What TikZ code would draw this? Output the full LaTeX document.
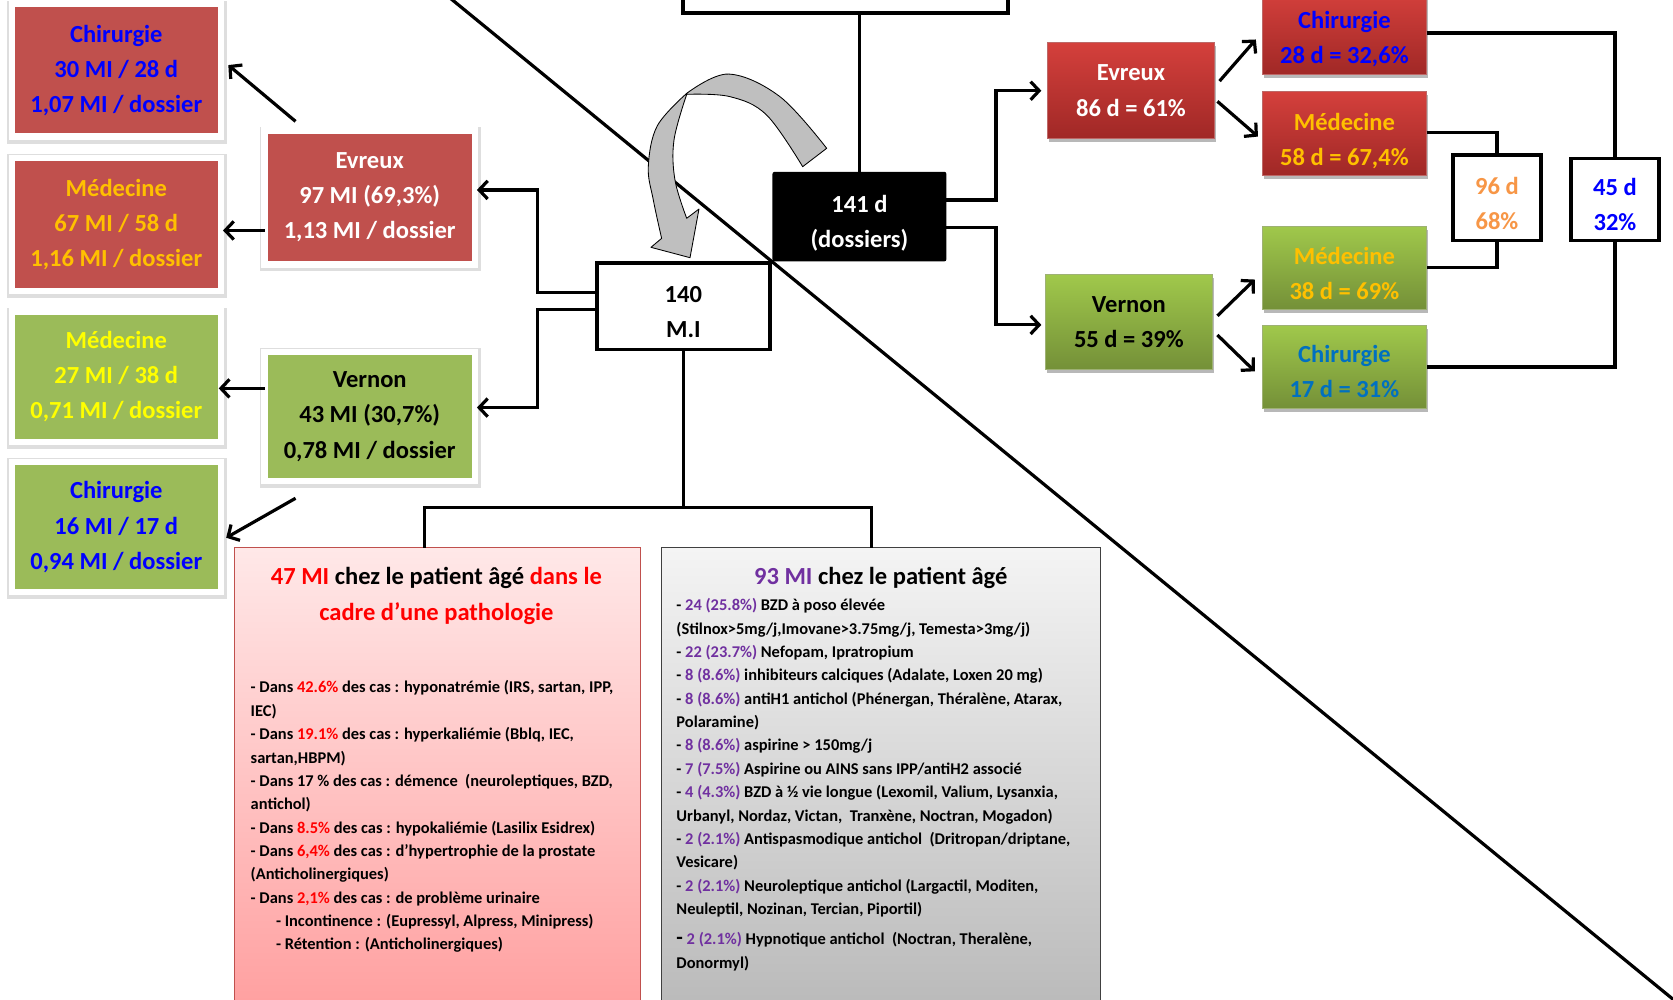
\documentclass[tikz,border=0pt]{standalone}
\usepackage{fontspec}
\setmainfont{Carlito}
\usetikzlibrary{arrows.meta,shadows,calc}
\definecolor{lred}{RGB}{192,80,77}
\definecolor{lgreen}{RGB}{155,187,89}
\definecolor{rredtop}{RGB}{212,64,60}
\definecolor{rredbot}{RGB}{160,40,38}
\definecolor{rgreentop}{RGB}{160,200,75}
\definecolor{rgreenbot}{RGB}{116,144,56}
\definecolor{gold}{RGB}{255,192,0}
\definecolor{yel}{RGB}{255,255,0}
\definecolor{pblue}{RGB}{0,0,255}
\definecolor{sblue}{RGB}{0,112,192}
\definecolor{orng}{RGB}{247,150,70}
\definecolor{purp}{RGB}{112,48,160}
\definecolor{pred}{RGB}{255,0,0}
\definecolor{arrgray}{RGB}{191,191,191}
\definecolor{pinktop}{RGB}{255,232,232}
\definecolor{pinkbot}{RGB}{255,160,160}
\definecolor{graytop}{RGB}{244,244,244}
\definecolor{graybot}{RGB}{186,186,186}
\newcommand{\rd}[1]{\textcolor{pred}{#1}}
\newcommand{\pu}[1]{\textcolor{purp}{#1}}
\begin{document}
\begin{tikzpicture}[x=1pt,y=-1pt,
  every node/.style={inner sep=0pt,outer sep=0pt},
  boxfont/.style={font=\bfseries\fontsize{23}{33}\selectfont,align=center},
  shad/.style={drop shadow={shadow xshift=1.5pt,shadow yshift=-3.5pt,opacity=0.28,fill=black}},
  leftbox/.style={boxfont,draw=white,line width=6pt,minimum width=196pt,
    preaction={draw=black!13,line width=10pt,transform canvas={xshift=0.6pt,yshift=-1.6pt}}},
  rred/.style={top color=rredtop,bottom color=rredbot,draw=rredbot!70!white,line width=0.8pt,minimum width=154pt,shad},
  rgreen/.style={top color=rgreentop,bottom color=rgreenbot,draw=rgreenbot!70!white,line width=0.8pt,minimum width=154pt,shad},
  wbox/.style={draw=black,line width=3.5pt,fill=white},
  bbox/.style={fill=black,rounded corners=2pt},
  conn/.style={line width=3pt},
  arr/.style={-{Straight Barb[length=8pt,width=17pt]}},
  titlefont/.style={font=\bfseries\fontsize{23}{33}\selectfont,align=center},
  bodyfont/.style={font=\bfseries\fontsize{15.4}{21.9}\selectfont,align=left}
]
\useasboundingbox (0,0) rectangle (1568,937);
\clip (0,0) rectangle (1568,937);
\fill[white] (0,0) rectangle (1568,937);

% diagonal line (behind everything)
\coordinate (dA) at (410,-11.5);
\coordinate (dB) at (1582,948);
\draw[line width=3pt] (dA) -- (dB);

% bottom boxes
\node[draw=lred,line width=1pt,top color=pinktop,bottom color=pinkbot,minimum width=380pt,minimum height=430pt,anchor=north west] (pinkb) at (220,513.5) {};
\node[draw=black!75,line width=1pt,top color=graytop,bottom color=graybot,minimum width=411pt,minimum height=430pt,anchor=north west] (grayb) at (620,513.5) {};

% left column
\node[leftbox,fill=lred,text=pblue,minimum height=124pt] (chRL) at (109,66) {Chirurgie\\30 MI / 28 d\\1,07 MI / dossier};
\node[leftbox,fill=lred,text=gold,minimum height=125pt] (mdRL) at (109,210.5) {Médecine\\67 MI / 58 d\\1,16 MI / dossier};
\node[leftbox,fill=lgreen,text=yel,minimum height=122pt] (mdGL) at (109,353) {Médecine\\27 MI / 38 d\\0,71 MI / dossier};
\node[leftbox,fill=lgreen,text=pblue,minimum height=122pt] (chGL) at (109,494) {Chirurgie\\16 MI / 17 d\\0,94 MI / dossier};
\node[leftbox,fill=lred,text=white,minimum width=197pt,minimum height=125.5pt] (evL) at (346.5,185) {Evreux\\97 MI (69,3\%)\\1,13 MI / dossier};
\node[leftbox,fill=lgreen,text=black,minimum width=197pt,minimum height=121pt] (veL) at (346.5,390.5) {Vernon\\43 MI (30,7\%)\\0,78 MI / dossier};

% right side boxes
\node[rred,boxfont,text=white,minimum width=156pt,minimum height=90pt] (evR) at (1060,85) {Evreux\\86 d = 61\%};
\node[rgreen,boxfont,text=black,minimum width=156pt,minimum height=89pt] (veR) at (1058,302) {Vernon\\55 d = 39\%};
\node[rred,minimum height=78pt] (chRR) at (1260,31) {};
\node[rred,minimum height=78pt] (mdRR) at (1260,125) {};
\node[rgreen,minimum height=78pt] (mdGR) at (1260,251) {};
\node[rgreen,minimum height=78pt] (chGR) at (1260,344) {};
\node[wbox,minimum width=82pt,minimum height=80pt] (b96) at (1403,185.5) {};
\node[wbox,minimum width=82pt,minimum height=77pt] (b45) at (1513.6,187) {};
\node[boxfont,text=pblue] (chRRt) at ([yshift=-5.5pt]chRR.center) {Chirurgie\\28 d = 32,6\%};
\node[boxfont,text=gold] (mdRRt) at ([yshift=-7pt]mdRR.center) {Médecine\\58 d = 67,4\%};
\node[boxfont,text=gold] (mdGRt) at ([yshift=-5pt]mdGR.center) {Médecine\\38 d = 69\%};
\node[boxfont,text=sblue] (chGRt) at ([yshift=-4.5pt]chGR.center) {Chirurgie\\17 d = 31\%};
\node[boxfont,text=orng] (b96t) at ([yshift=-5pt]b96.center) {96 d\\68\%};
\node[boxfont,text=pblue] (b45t) at ([yshift=-4.5pt]b45.center) {45 d\\32\%};

% centre
\node[wbox,minimum width=305pt,minimum height=60pt] (topb) at (792.5,-18) {};
\node[wbox,minimum width=162pt,minimum height=81pt] (m140) at (640.5,287) {};
\node[bbox,minimum width=163pt,minimum height=84pt] (d141) at (805.5,203) {};
\node[boxfont,text=black] (m140t) at ([yshift=-5.5pt]m140.center) {140\\M.I};
\node[boxfont,text=white] (d141t) at ([yshift=-6.5pt]d141.center) {141 d\\(dossiers)};

% curved grey arrow
\draw[fill=arrgray,line width=0.8pt,line join=round]
  plot[smooth,tension=0.6] coordinates {(774.8,139.0) (731.0,90.6) (682.6,69.4) (643.6,87.5)}
  -- plot[smooth,tension=0.6] coordinates {(643.6,87.5) (616,118) (607.6,156.2) (612.3,187.4) (620.1,223.4)}
  -- (610.1,231.8) -- (646.7,241.5) -- (655.1,195.9) -- (643.6,204.6)
  -- plot[smooth,tension=0.6] coordinates {(643.6,204.6) (632.6,168.7) (631.7,131.2) (643.6,88.4)}
  -- plot[smooth,tension=0.6] coordinates {(643.6,88.4) (684.2,90.6) (718.5,107.8) (752.3,156.2)}
  -- cycle;

% connectors centre
\draw[conn] (topb.south -| d141.north) -- (d141.north);
\draw[conn,arr] ([yshift=15.5pt]d141.east) -- ++(46.5,0) |- ([xshift=-6pt]evR.west);
\draw[conn,arr] ([yshift=-10.5pt]d141.east) -- ++(46.5,0) |- ([xshift=-4pt,yshift=-2.5pt]veR.west);
\draw[conn,arr] ([yshift=13pt]m140.west) -- ++(-56,0) |- ([xshift=2pt,yshift=7pt]evL.east);
\draw[conn,arr] ([yshift=-3pt]m140.west) -- ++(-56,0) |- ([xshift=2pt,yshift=8.5pt]veL.east);

% left connectors
\coordinate (eA) at ([yshift=-31pt]evL.west);
\draw[conn,arr] (eA) -- ([xshift=2pt]eA -| mdRL.east);
\coordinate (vA) at ([yshift=26.5pt]veL.west);
\draw[conn,arr] (vA) -- ([xshift=-2pt]vA -| mdGL.east);
\draw[conn,arr] ([xshift=29pt,yshift=8.5pt]evL.north west) -- ([xshift=7pt,yshift=5pt]chRL.east);
\draw[conn,arr] ([xshift=29pt,yshift=-16pt]veL.south west) -- ([xshift=5pt,yshift=-10pt]chGL.east);

% right connectors
\draw[conn,arr] ([xshift=5pt,yshift=9pt]evR.east) -- ([xshift=-6pt,yshift=-6pt]chRR.west);
\draw[conn,arr] ([xshift=3pt,yshift=-10pt]evR.east) -- ([xshift=-4pt,yshift=-3pt]mdRR.west);
\draw[conn,arr] ([xshift=5pt,yshift=6pt]veR.east) -- ([xshift=-7pt,yshift=-11pt]mdGR.west);
\draw[conn,arr] ([xshift=5pt,yshift=-12pt]veR.east) -- ([xshift=-7pt,yshift=-4pt]chGR.west);
\draw[conn] (chRR.east) -| (b45.north);
\draw[conn] (b45.south) |- (chGR.east);
\draw[conn] ([yshift=1pt]mdRR.east) -| (b96.north);
\draw[conn] (b96.south) |- (mdGR.east);

% bottom split
\coordinate (split) at (m140.south |- 0,476);
\draw[conn] (m140.south) -- (split);
\draw[conn] ($(pinkb.north west)+(178,0)$) |- (split) -| ($(grayb.north west)+(197,0)$);

% texts in bottom boxes
\node[titlefont,anchor=north] (pinkT) at (409,532) {\rd{47 MI} chez le patient âgé \rd{dans le}\\\rd{cadre d’une pathologie}};
\node[titlefont,anchor=north] (grayT) at (825.5,532) {\pu{93 MI} chez le patient âgé};
\node[bodyfont,anchor=north west] (pinkB) at (235,638) {- Dans \rd{42.6\%} des cas : hyponatrémie (IRS, sartan, IPP,\\
IEC)\\
- Dans \rd{19.1\%} des cas : hyperkaliémie (Bblq, IEC,\\
sartan,HBPM)\\
- Dans 17 \% des cas : démence\ \ (neuroleptiques, BZD,\\
antichol)\\
- Dans \rd{8.5\%} des cas : hypokaliémie (Lasilix Esidrex)\\
- Dans \rd{6,4\%} des cas : d’hypertrophie de la prostate\\
(Anticholinergiques)\\
- Dans \rd{2,1\%} des cas : de problème urinaire\\
\hspace*{23.7pt}- Incontinence : (Eupressyl, Alpress, Minipress)\\
\hspace*{23.7pt}- Rétention : (Anticholinergiques)};
\node[bodyfont,anchor=north west] (grayB) at (634,561) {- \pu{24 (25.8\%)} BZD à poso élevée\\
(Stilnox>5mg/j,Imovane>3.75mg/j, Temesta>3mg/j)\\
- \pu{22 (23.7\%)} Nefopam, Ipratropium\\
- \pu{8 (8.6\%)} inhibiteurs calciques (Adalate, Loxen 20 mg)\\
- \pu{8 (8.6\%)} antiH1 antichol (Phénergan, Théralène, Atarax,\\
Polaramine)\\
- \pu{8 (8.6\%)} aspirine > 150mg/j\\
- \pu{7 (7.5\%)} Aspirine ou AINS sans IPP/antiH2 associé\\
- \pu{4 (4.3\%)} BZD à ½ vie longue (Lexomil, Valium, Lysanxia,\\
Urbanyl, Nordaz, Victan,\ \ Tranxène, Noctran, Mogadon)\\
- \pu{2 (2.1\%)} Antispasmodique antichol\ \ (Dritropan/driptane,\\
Vesicare)\\
- \pu{2 (2.1\%)} Neuroleptique antichol (Largactil, Moditen,\\
Neuleptil, Nozinan, Tercian, Piportil)\\[6pt]
{\fontsize{20}{21.9}\selectfont -} \pu{2 (2.1\%)} Hypnotique antichol\ \ (Noctran, Theralène,\\[1pt]
Donormyl)};
\end{tikzpicture}
\end{document}
